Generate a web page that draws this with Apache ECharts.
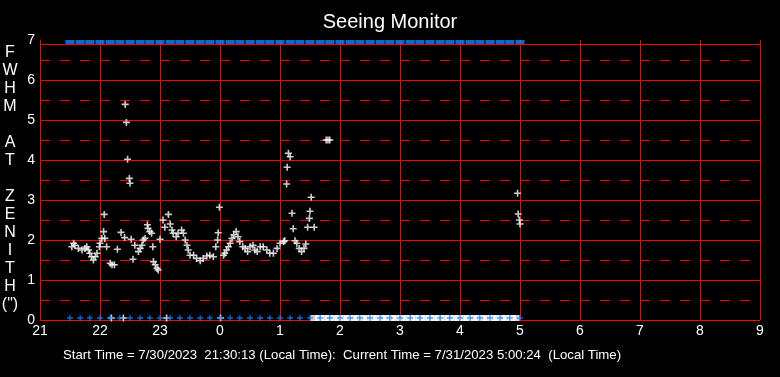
<!DOCTYPE html>
<html>
<head>
<meta charset="utf-8">
<script src="https://cdn.jsdelivr.net/npm/echarts@6/dist/echarts.min.js"></script>
<style>
  html, body { margin: 0; padding: 0; background: #000; }
  #chart { width: 780px; height: 377px; }
</style>
</head>
<body>
<div id="chart"></div>
<script>
// hours since midnight of the start day (after midnight = 24+)
const fwhmTimes = [
  21.53, 21.56, 21.58, 21.64, 21.70, 21.75, 21.78, 21.81, 21.83, 21.86,
  21.89, 21.92, 21.95, 21.99, 22.00, 22.03, 22.06, 22.07, 22.08, 22.11,
  22.17, 22.20, 22.24, 22.29, 22.35, 22.41, 22.42, 22.44, 22.46, 22.49,
  22.50, 22.52, 22.55, 22.58, 22.64, 22.67, 22.70, 22.72, 22.75, 22.79,
  22.80, 22.83, 22.86, 22.88, 22.89, 22.92, 22.95, 22.97, 23.00, 23.05,
  23.08, 23.14, 23.17, 23.20, 23.22, 23.27, 23.30, 23.36, 23.39, 23.42,
  23.45, 23.47, 23.50, 23.56, 23.61, 23.67, 23.72, 23.78, 23.83, 23.89,
  23.93, 23.96, 23.97, 23.99, 24.06, 24.08, 24.11, 24.14, 24.17, 24.20,
  24.23, 24.27, 24.30, 24.33, 24.38, 24.42, 24.46, 24.50, 24.55, 24.58,
  24.62, 24.67, 24.72, 24.78, 24.83, 24.89, 24.95, 25.00, 25.06, 25.08,
  25.11, 25.12, 25.14, 25.17, 25.20, 25.22, 25.25, 25.28, 25.32, 25.36,
  25.40, 25.43, 25.46, 25.49, 25.50, 25.52, 25.57, 25.77, 25.80, 25.83,
  28.96, 28.97, 28.99, 29.00
];
const fwhmValues = [
  1.83, 1.92, 1.87, 1.79, 1.75, 1.79, 1.83, 1.75, 1.67, 1.58,
  1.50, 1.58, 1.67, 1.83, 1.92, 2.04, 2.21, 2.64, 2.04, 1.83,
  1.42, 1.38, 1.38, 1.77, 2.19, 2.06, 5.39, 4.94, 4.02, 3.54,
  3.42, 2.02, 1.52, 1.87, 1.71, 1.79, 1.87, 2.00, 2.04, 2.38,
  2.29, 2.21, 2.17, 1.83, 1.46, 1.38, 1.29, 1.25, 2.02, 2.50,
  2.32, 2.64, 2.40, 2.25, 2.17, 2.08, 2.17, 2.25, 2.17, 2.00,
  1.87, 1.75, 1.62, 1.62, 1.54, 1.48, 1.54, 1.60, 1.62, 1.58,
  1.83, 2.00, 2.18, 2.82, 1.62, 1.67, 1.75, 1.83, 1.92, 2.04,
  2.13, 2.21, 2.08, 1.96, 1.83, 1.79, 1.71, 1.83, 1.87, 1.75,
  1.71, 1.83, 1.83, 1.75, 1.67, 1.67, 1.79, 1.92, 1.96, 1.98,
  3.40, 3.82, 4.17, 4.08, 2.67, 2.28, 1.98, 1.92, 1.79, 1.71,
  1.79, 1.90, 2.32, 2.54, 2.72, 3.07, 2.32, 4.50, 4.50, 4.50,
  3.17, 2.65, 2.50, 2.40
];

// samples with no measurement (plotted on the zero line)
const failedTimes = [22.19, 22.39, 23.11, 24.01];
const failedRunTimes = [
  25.58, 25.66, 25.74, 25.82, 25.90, 25.98, 26.06, 26.14, 26.22, 26.30,
  26.38, 26.46, 26.54, 26.62, 26.70, 26.78, 26.86, 26.94, 27.02, 27.10,
  27.18, 27.26, 27.34, 27.42, 27.50, 27.58, 27.66, 27.74, 27.82, 27.90,
  27.98, 28.06, 28.14, 28.22, 28.30, 28.38, 28.46, 28.54, 28.62, 28.70,
  28.78, 28.86, 28.92
];

// status check times (blue markers, top and bottom)
const statusTimes = [
  21.50, 21.67, 21.83, 22.00, 22.17, 22.33, 22.50, 22.67, 22.83, 23.00,
  23.17, 23.33, 23.50, 23.67, 23.83, 24.00, 24.17, 24.33, 24.50, 24.67,
  24.83, 25.00, 25.17, 25.33, 25.50, 25.67, 25.83, 26.00, 26.17, 26.33,
  26.50, 26.67, 26.83, 27.00, 27.17, 27.33, 27.50, 27.67, 27.83, 28.00,
  28.17, 28.33, 28.50, 28.67, 28.83, 29.00
];

const yAxisName = ['F', 'W', 'H', 'M', '', 'A', 'T', '', 'Z', 'E', 'N', 'I', 'T', 'H', '(")'];
const footer = 'Start Time = 7/30/2023  21:30:13 (Local Time):  Current Time = 7/31/2023 5:00:24  (Local Time)';

const FONT = "'Liberation Sans', Arial, sans-serif";
const RED = '#ff0000';
const BLUE = '#1480ff';
const PLUS = 'path://M0,2.7H7V4.3H0ZM2.7,0H4.3V7H2.7Z';

const chart = echarts.init(document.getElementById('chart'));

const option = {
  backgroundColor: '#000',
  animation: false,
  title: {
    text: 'Seeing Monitor',
    left: 'center',
    top: 7,
    textStyle: { color: '#fff', fontSize: 20, fontWeight: 'normal', fontFamily: FONT }
  },
  grid: { left: 40, right: 20, top: 40, bottom: 57 },
  xAxis: {
    type: 'value',
    min: 21,
    max: 33,
    interval: 1,
    axisLine: { show: true, lineStyle: { color: RED, width: 1 } },
    axisTick: { show: false },
    axisLabel: {
      color: '#fff', fontSize: 14, fontFamily: FONT, margin: 4,
      formatter: v => String(v % 24)
    },
    splitLine: { show: true, lineStyle: { color: RED, width: 1 } }
  },
  yAxis: {
    type: 'value',
    min: 0,
    max: 7,
    interval: 1,
    axisLine: { show: true, lineStyle: { color: RED, width: 1 } },
    axisTick: { show: false },
    axisLabel: { color: '#fff', fontSize: 14, fontFamily: FONT, margin: 5 },
    splitLine: {
      show: true,
      // no grid line at 7: the frame top is drawn a little lower
      lineStyle: { color: [RED, RED, RED, RED, RED, RED, RED, 'rgba(0,0,0,0)'], width: 1 }
    },
    minorTick: { show: false, splitNumber: 2 },
    minorSplitLine: { show: true, lineStyle: { color: RED, width: 1, type: [10, 10] } }
  },
  graphic: [
    {
      type: 'text',
      style: {
        x: 10, y: 44,
        text: yAxisName.join('\n'),
        fill: '#fff',
        font: '16px ' + FONT,
        lineHeight: 18,
        align: 'center',
        verticalAlign: 'top'
      }
    },
    {
      type: 'text',
      style: {
        x: 342, y: 355,
        text: footer,
        fill: '#fff',
        font: '13.2px ' + FONT,
        align: 'center',
        verticalAlign: 'middle'
      }
    }
  ],
  series: [
    {
      // top edge of the plot frame sits just below the 7 tick
      name: 'frame',
      type: 'line',
      data: [[21, 6.8875], [33, 6.8875]],
      symbol: 'none',
      silent: true,
      itemStyle: { color: RED },
      lineStyle: { color: RED, width: 1 }
    },
    {
      name: 'failed run',
      type: 'scatter',
      data: failedRunTimes.map(t => [t, 0]),
      symbol: 'rect',
      symbolSize: [9, 6],
      symbolOffset: [0, -2],
      itemStyle: { color: '#fff' }
    },
    {
      name: 'failed',
      type: 'scatter',
      data: failedTimes.map(t => [t, 0]),
      symbol: PLUS,
      symbolSize: 7,
      symbolOffset: [0, -2],
      itemStyle: { color: '#fff' }
    },
    {
      name: 'status bottom',
      type: 'scatter',
      data: statusTimes.map(t => [t, 0]),
      symbol: PLUS,
      symbolSize: 6,
      symbolOffset: [0, -2],
      itemStyle: { color: BLUE }
    },
    {
      name: 'status top',
      type: 'scatter',
      data: statusTimes.map(t => [t, 7]),
      symbol: 'rect',
      symbolSize: [9, 5],
      symbolOffset: [0, 2.5],
      clip: false,
      itemStyle: { color: BLUE }
    },
    {
      name: 'FWHM',
      type: 'scatter',
      data: fwhmTimes.map((t, i) => [t, fwhmValues[i]]),
      symbol: PLUS,
      symbolSize: 7,
      itemStyle: { color: '#fff' }
    }
  ]
};

chart.setOption(option);
</script>
</body>
</html>
